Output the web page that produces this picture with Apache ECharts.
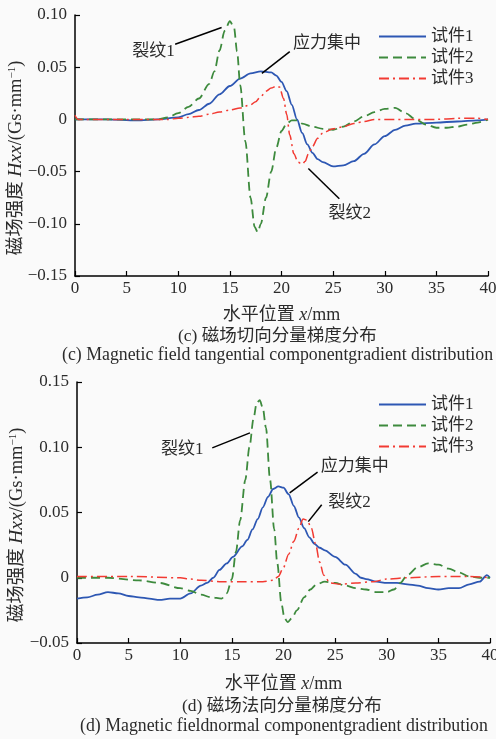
<!DOCTYPE html>
<html>
<head>
<meta charset="utf-8">
<script src="https://cdn.jsdelivr.net/npm/echarts@6/dist/echarts.min.js"></script>
<style>
html, body { margin: 0; padding: 0; background: #fafafa; }
#main { width: 496px; height: 739px; }
</style>
</head>
<body>
<div id="main"></div>
<script>
// (c) 切向分量梯度
var cBlueX  = [0, 3, 6, 8, 10, 11, 12, 13, 14, 15, 16, 17, 18, 19, 19.5, 20, 20.5, 21, 21.5, 22, 22.5, 23, 23.5, 24, 25, 26, 27, 28, 29, 30, 31, 32, 33, 35, 37, 39, 40];
var cBlueY  = [0, 0, -0.001, 0, 0.002, 0.005, 0.009, 0.015, 0.024, 0.032, 0.039, 0.044, 0.046, 0.045, 0.042, 0.036, 0.027, 0.014, 0, -0.013, -0.024, -0.032, -0.038, -0.041, -0.045, -0.044, -0.040, -0.033, -0.024, -0.016, -0.010, -0.006, -0.004, -0.003, -0.002, -0.001, 0];
var cGreenX = [0, 4, 8, 9, 10, 11, 12, 13, 13.5, 14, 14.5, 15, 15.4, 15.7, 16, 16.5, 17, 17.4, 17.7, 18, 18.5, 19, 19.5, 20, 20.5, 21, 21.5, 22, 23, 24, 25, 26, 27, 28, 29, 30, 31, 32, 33, 34, 35, 36, 37, 38, 39, 40];
var cGreenY = [0, 0, 0, 0.002, 0.006, 0.012, 0.020, 0.034, 0.046, 0.066, 0.085, 0.094, 0.088, 0.065, 0.033, -0.021, -0.075, -0.103, -0.108, -0.100, -0.075, -0.050, -0.027, -0.011, -0.004, -0.001, -0.001, -0.004, -0.007, -0.009, -0.010, -0.007, -0.002, 0.003, 0.007, 0.010, 0.011, 0.006, 0, -0.005, -0.008, -0.008, -0.007, -0.005, -0.003, 0];
var cRedX   = [0, 0.3, 5, 9, 10, 11, 12, 13, 14, 15, 16, 17, 17.5, 18, 18.5, 19, 19.5, 19.8, 20.2, 20.5, 20.8, 21.2, 21.6, 22, 22.3, 22.6, 23, 23.5, 24, 25, 26, 27, 28, 29, 32, 35, 37, 39, 40];
var cRedY   = [0.004, 0, 0, 0, 0.001, 0.002, 0.003, 0.005, 0.007, 0.009, 0.011, 0.014, 0.017, 0.022, 0.027, 0.030, 0.032, 0.031, 0.020, 0.005, -0.015, -0.033, -0.041, -0.043, -0.040, -0.033, -0.026, -0.018, -0.013, -0.009, -0.007, -0.004, -0.002, 0, 0, 0, 0.001, 0.001, 0];

// (d) 法向分量梯度
var dBlueX  = [0, 1, 2, 3, 4, 5, 6, 7, 8, 9, 10, 11, 12, 12.6, 13.2, 13.8, 14.5, 15.1, 16, 16.5, 17, 17.5, 18, 18.5, 19, 19.5, 20, 20.5, 21, 21.5, 22, 22.5, 23, 23.5, 24, 25, 26, 27, 27.5, 28, 29, 30, 31, 32, 33, 34, 35, 36, 37, 38, 39, 39.7, 40];
var dBlueY  = [-0.016, -0.015, -0.013, -0.011, -0.012, -0.014, -0.015, -0.016, -0.017, -0.016, -0.016, -0.012, -0.006, -0.004, 0, 0.006, 0.011, 0.016, 0.024, 0.029, 0.037, 0.045, 0.054, 0.062, 0.068, 0.070, 0.069, 0.064, 0.055, 0.046, 0.038, 0.031, 0.026, 0.023, 0.021, 0.016, 0.010, 0.003, 0, -0.001, -0.003, -0.004, -0.004, -0.005, -0.006, -0.008, -0.009, -0.008, -0.008, -0.005, -0.003, 0.002, 0];
var dGreenX = [0, 3, 6, 8, 10, 11, 12, 13, 14, 14.5, 15, 15.4, 15.8, 16.3, 16.7, 17.1, 17.4, 17.7, 18, 18.3, 18.7, 19.1, 19.4, 19.8, 20.1, 20.4, 20.8, 21.3, 22, 22.6, 23.2, 24, 25, 26, 27, 28, 29, 30, 30.7, 31.3, 32, 33, 34, 35, 36, 37, 38, 39, 40];
var dGreenY = [0, 0, -0.002, -0.004, -0.008, -0.010, -0.013, -0.015, -0.016, -0.012, -0.001, 0.020, 0.044, 0.075, 0.100, 0.122, 0.134, 0.136, 0.130, 0.115, 0.075, 0.037, 0.011, -0.020, -0.031, -0.034, -0.031, -0.025, -0.015, -0.009, -0.005, -0.003, -0.004, -0.006, -0.008, -0.009, -0.011, -0.011, -0.009, -0.004, 0.002, 0.008, 0.011, 0.010, 0.007, 0.004, 0.001, 0, 0];
var dRedX   = [0, 5, 10, 11, 12, 14, 16, 18, 19, 19.5, 20, 20.5, 21, 21.5, 21.9, 22.3, 22.7, 23.1, 23.5, 23.9, 24.5, 25.5, 27, 28.7, 30, 32, 35, 38, 40];
var dRedY   = [0.001, 0.001, 0, -0.001, -0.002, -0.003, -0.003, -0.003, -0.002, 0.001, 0.008, 0.018, 0.028, 0.038, 0.045, 0.044, 0.038, 0.026, 0.012, 0.002, -0.004, -0.005, -0.004, -0.003, -0.001, 0, 0.001, 0.001, 0];

var seriesNames = ['试件1', '试件2', '试件3'];

// 标注（数据坐标）
var annC = [
	{ text: '裂纹1', at: [7.6, 0.065], from: [9.7, 0.072], to: [14.2, 0.088] },
	{ text: '应力集中', at: [24.4, 0.073], from: [20.8, 0.065], to: [18.1, 0.044] },
	{ text: '裂纹2', at: [26.6, -0.090], from: [25.6, -0.076], to: [22.6, -0.047] }
];
var annD = [
	{ text: '裂纹1', at: [10.2, 0.098], from: [13.1, 0.0995], to: [16.75, 0.111] },
	{ text: '应力集中', at: [26.9, 0.085], from: [23.3, 0.081], to: [20.6, 0.065] },
	{ text: '裂纹2', at: [26.4, 0.058], from: [23.7, 0.056], to: [22.4, 0.043] }
];

var font = "'Liberation Serif', 'Noto Sans CJK SC', serif";
var txt = '#2b2b2b';

function pairs(xs, ys) {
	return xs.map(function(x, i) { return [x, ys[i]]; });
}

function yLabel(v) {
	if (Math.abs(v) < 1e-9) return '0';
	return (v < 0 ? '\u2212' : '') + Math.abs(v).toFixed(2);
}

function lineSeries(name, idx, xs, ys, color, type, width, ann) {
	var s = {
		name: name,
		type: 'line',
		xAxisIndex: idx,
		yAxisIndex: idx,
		data: pairs(xs, ys),
		showSymbol: false,
		symbol: 'none',
		smooth: 0.3,
		smoothMonotone: 'x',
		lineStyle: { color: color, width: width, type: type },
		itemStyle: { color: color }
	};
	if (ann) {
		s.markLine = {
			silent: true,
			symbol: ['none', 'none'],
			label: { show: false },
			lineStyle: { color: '#000', width: 1.5, type: 'solid' },
			data: ann.map(function(a) { return [{ coord: a.from }, { coord: a.to }]; })
		};
		s.markPoint = {
			silent: true,
			symbol: 'rect',
			symbolSize: 1,
			itemStyle: { color: 'rgba(0,0,0,0)' },
			label: { show: true, position: 'inside', color: txt, fontSize: 17, fontFamily: font,
				formatter: function(p) { return p.name; } },
			data: ann.map(function(a) { return { name: a.text, coord: a.at }; })
		};
	}
	return s;
}

function xAxisCfg(idx, gap) {
	return {
		gridIndex: idx,
		type: 'value',
		min: 0, max: 40, interval: 5,
		name: '{a|水平位置 }{i|x}{a|/mm}',
		nameLocation: 'middle',
		nameGap: gap,
		nameTextStyle: { rich: {
			a: { fontSize: 18, fontFamily: font, color: txt },
			i: { fontSize: 18, fontFamily: font, fontStyle: 'italic', color: txt }
		} },
		axisLine: { onZero: false, lineStyle: { color: '#000', width: 1.5 } },
		axisTick: { inside: true, length: 5, lineStyle: { color: '#000', width: 1.2 } },
		axisLabel: { color: txt, fontSize: 17, fontFamily: font, margin: 4 },
		splitLine: { show: false }
	};
}

function yAxisCfg(idx, min, max) {
	return {
		gridIndex: idx,
		type: 'value',
		min: min, max: max, interval: 0.05,
		axisLine: { show: true, lineStyle: { color: '#000', width: 1.5 } },
		axisTick: { show: true, inside: true, length: 5, lineStyle: { color: '#000', width: 1.2 } },
		axisLabel: { color: txt, fontSize: 17, fontFamily: font, margin: 8, formatter: yLabel },
		splitLine: { show: false }
	};
}

// 纵轴名称（竖排）
var yNameRich = {
	a: { fontSize: 18.5, fontFamily: font, fill: txt },
	i: { fontSize: 19.5, fontFamily: font, fontStyle: 'italic', fill: txt },
	s: { fontSize: 11, fontFamily: font, fill: txt, verticalAlign: 'top', padding: [0, 0, 7, 0] }
};
function yName(cx, cy) {
	return {
		type: 'text',
		x: cx, y: cy,
		rotation: Math.PI / 2,
		style: {
			text: '{a|磁场强度 }{i|Hxx}{a|/(Gs·mm}{s|\u22121}{a|)}',
			rich: yNameRich,
			align: 'center',
			verticalAlign: 'middle',
			fill: txt
		}
	};
}

function legendCfg(top) {
	return {
		orient: 'vertical',
		left: 378,
		top: top,
		padding: 0,
		itemWidth: 47,
		itemHeight: 14,
		itemGap: 4,
		data: seriesNames,
		itemStyle: { opacity: 0, borderWidth: 0 },
		textStyle: { color: txt, fontSize: 17, fontFamily: font }
	};
}

var dom = document.getElementById('main');
var myChart = echarts.init(dom, null, { renderer: 'canvas' });

var option = {
	animation: false,
	backgroundColor: '#fafafa',
	grid: [
		{ left: 75, top: 15, width: 413, height: 261, outerBoundsMode: 'none', containLabel: false },
		{ left: 77, top: 382, width: 413, height: 261, outerBoundsMode: 'none', containLabel: false }
	],
	xAxis: [xAxisCfg(0, 30), xAxisCfg(1, 32)],
	yAxis: [yAxisCfg(0, -0.15, 0.10), yAxisCfg(1, -0.05, 0.15)],
	legend: [legendCfg(28), legendCfg(396)],
	graphic: [
		yName(16, 158),
		yName(17, 525),
		{ type: 'text', left: 178, top: 328, style: { text: '(c) 磁场切向分量梯度分布', fill: txt, font: "17.5px " + font } },
		{ type: 'text', left: 62, top: 346, style: { text: '(c) Magnetic field tangential componentgradient distribution', fill: txt, font: "17.8px " + font } },
		{ type: 'text', left: 182, top: 698, style: { text: '(d) 磁场法向分量梯度分布', fill: txt, font: "17.5px " + font } },
		{ type: 'text', left: 80, top: 717, style: { text: '(d) Magnetic fieldnormal componentgradient distribution', fill: txt, font: "17.8px " + font } }
	],
	series: [
		lineSeries('试件1', 0, cBlueX, cBlueY, '#2d57b3', 'solid', 1.8, annC),
		lineSeries('试件2', 0, cGreenX, cGreenY, '#3d8a3d', [9, 5], 1.8),
		lineSeries('试件3', 0, cRedX, cRedY, '#f23a32', [10, 4, 2, 4], 1.5),
		lineSeries('试件1', 1, dBlueX, dBlueY, '#2d57b3', 'solid', 1.8, annD),
		lineSeries('试件2', 1, dGreenX, dGreenY, '#3d8a3d', [9, 5], 1.8),
		lineSeries('试件3', 1, dRedX, dRedY, '#f23a32', [10, 4, 2, 4], 1.5)
	]
};

myChart.setOption(option);
</script>
</body>
</html>
